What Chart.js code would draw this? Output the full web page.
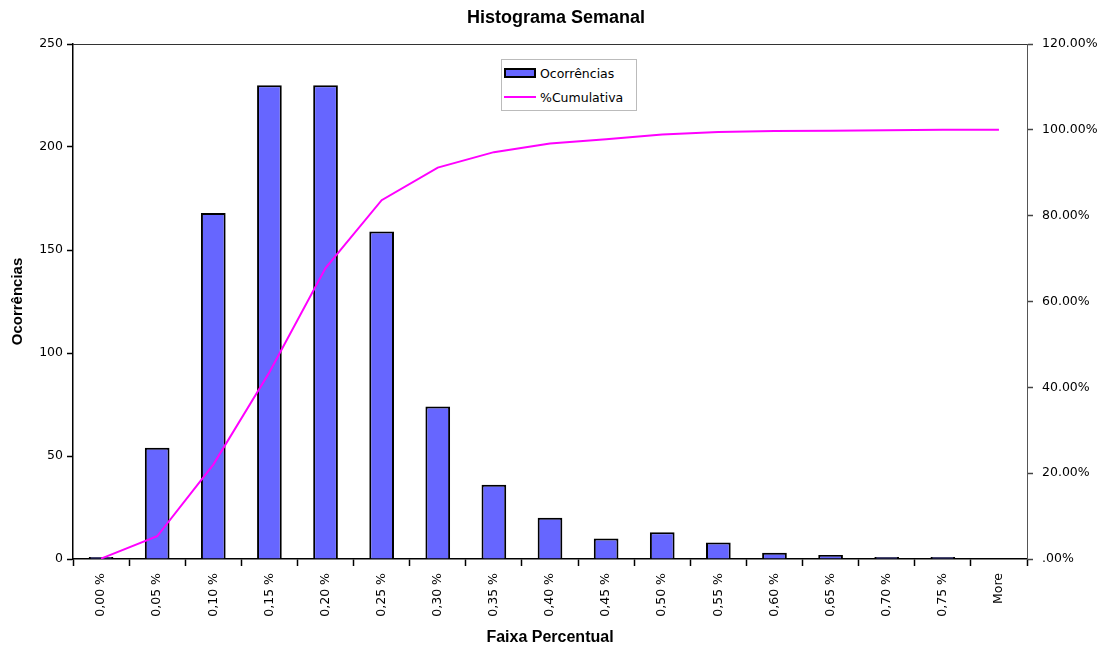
<!DOCTYPE html>
<html>
<head>
  <title>Histograma Semanal</title>
  <script src="https://cdn.jsdelivr.net/npm/chart.js"></script>
  <style>
    body {
      margin: 0;
      background: #fff;
      font-family: "Liberation Sans", Arial, sans-serif;
    }
    #wrap {
      position: relative;
      width: 1112px;
      height: 650px;
    }
    #legend {
      position: absolute;
      left: 501px;
      top: 59px;
      width: 134px;
      height: 50px;
      border: 1px solid #bbb;
      background: #fff;
      font-family: "DejaVu Sans", sans-serif;
      font-size: 12.5px;
      color: #000;
    }
    #legend .key, #legend .txt {
      position: absolute;
    }
    #legend .txt {
      left: 38px;
      line-height: 14px;
      white-space: nowrap;
    }
  </style>
</head>
<body>
  <div id="wrap">
    <canvas id="histChart"></canvas>
    <div id="legend">
      <div class="key" style="left:2px;top:8px;width:28px;height:6px;background:#6666ff;border:2px solid #000"></div>
      <div class="txt" style="top:7px">Ocorrências</div>
      <div class="key" style="left:2px;top:36px;width:32px;height:2px;background:#ff00ff"></div>
      <div class="txt" style="top:31px">%Cumulativa</div>
    </div>
  </div>

  <script>
    const faixas = ['0,00 %', '0,05 %', '0,10 %', '0,15 %', '0,20 %', '0,25 %', '0,30 %', '0,35 %', '0,40 %',
                    '0,45 %', '0,50 %', '0,55 %', '0,60 %', '0,65 %', '0,70 %', '0,75 %', 'More'];
    const ocorrencias = [1, 54, 168, 230, 230, 159, 74, 36, 20, 10, 13, 8, 3, 2, 1, 1, 0];
    const cumulativa = [0.1, 5.3, 22, 43.5, 67.8, 83.6, 91.2, 94.8, 96.8, 97.8, 98.9, 99.5, 99.7, 99.8, 99.9, 100, 100];
    const ticksEsq = [0, 50, 100, 150, 200, 250];
    const ticksDir = [0, 20, 40, 60, 80, 100, 120];

    const fontNum = { family: '"DejaVu Sans", sans-serif', size: 12.5 };
    const fontTitulo = '"Liberation Sans", Arial, sans-serif';

    // top border of the plot area
    const topBorder = {
      id: 'topBorder',
      afterDraw(chart) {
        const { ctx, chartArea } = chart;
        ctx.save();
        ctx.strokeStyle = '#333';
        ctx.lineWidth = 1;
        ctx.beginPath();
        ctx.moveTo(chartArea.left, chartArea.top + 0.5);
        ctx.lineTo(chartArea.right, chartArea.top + 0.5);
        ctx.stroke();
        ctx.restore();
      }
    };

    const ctx = document.getElementById('histChart').getContext('2d');
    new Chart(ctx, {
      type: 'bar',
      data: {
        labels: faixas,
        datasets: [
          {
            type: 'line',
            label: '%Cumulativa',
            data: cumulativa,
            yAxisID: 'y1',
            borderColor: '#ff00ff',
            borderWidth: 2,
            pointRadius: 0,
            tension: 0,
            order: 0
          },
          {
            label: 'Ocorrências',
            data: ocorrencias,
            yAxisID: 'y',
            backgroundColor: '#6666ff',
            borderColor: '#000',
            borderWidth: 2,
            categoryPercentage: 1,
            barPercentage: 0.44,
            order: 1
          }
        ]
      },
      options: {
        responsive: true,
        maintainAspectRatio: false,
        animation: false,
        layout: { padding: 0 },
        plugins: {
          legend: { display: false },
          tooltip: { enabled: false },
          title: {
            display: true,
            text: 'Histograma Semanal',
            color: '#000',
            font: { family: fontTitulo, size: 18, weight: 'bold' },
            padding: { top: 7, bottom: 15.4 }
          }
        },
        scales: {
          x: {
            afterFit: s => { s.height = 91; },
            grid: { drawOnChartArea: false, color: '#000', tickLength: 7, tickWidth: 1.5 },
            border: { color: '#000', width: 1.5 },
            ticks: {
              autoSkip: false, minRotation: 90, maxRotation: 90, padding: 7,
              color: '#000', font: fontNum
            },
            title: {
              display: true, text: 'Faixa Percentual', color: '#000',
              font: { family: fontTitulo, size: 16, weight: 'bold' },
              padding: { top: 0, bottom: 3 }
            }
          },
          y: {
            position: 'left',
            min: 0, max: 250,
            afterFit: s => { s.width = 73; },
            afterBuildTicks: s => { s.ticks = ticksEsq.map(v => ({ value: v })); },
            grid: { drawOnChartArea: false, color: '#000', tickLength: 6, tickWidth: 1.5 },
            border: { color: '#000', width: 1.5 },
            ticks: { padding: 4, color: '#000', font: fontNum },
            title: {
              display: true, text: 'Ocorrências', color: '#000',
              font: { family: fontTitulo, size: 15, weight: 'bold' },
              padding: { top: 9, bottom: 0 }
            }
          },
          y1: {
            position: 'right',
            min: 0, max: 120,
            afterFit: s => { s.width = 85; },
            afterBuildTicks: s => { s.ticks = ticksDir.map(v => ({ value: v })); },
            grid: { drawOnChartArea: false, color: '#444', tickLength: 6, tickWidth: 1.5 },
            border: { color: '#555', width: 1 },
            ticks: {
              padding: 9, color: '#000', font: fontNum,
              callback: v => v === 0 ? '.00%' : v.toFixed(2) + '%'
            }
          }
        }
      },
      plugins: [topBorder]
    });
  </script>
</body>
</html>
